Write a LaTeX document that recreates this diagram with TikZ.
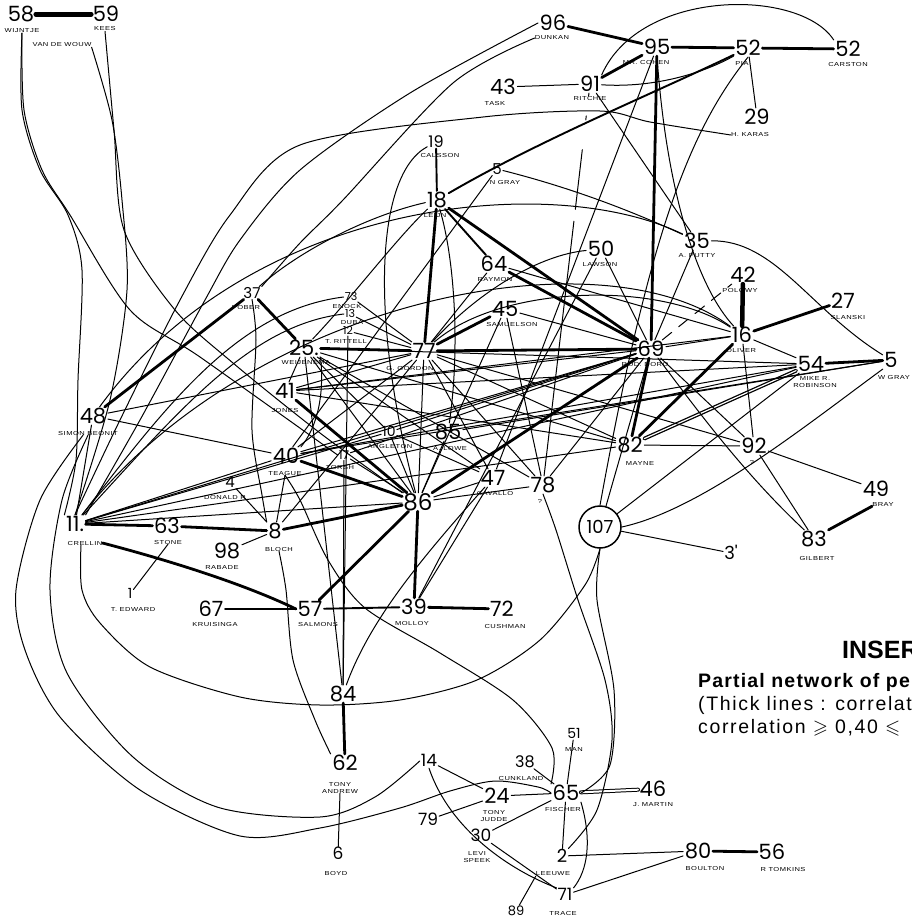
\documentclass[tikz,border=0pt]{standalone}
\usepackage{amssymb}
\usepackage{fontspec}
\setmainfont{Liberation Sans}
\newfontfamily\numfont{Poppins}
\newfontfamily\labfont[FakeStretch=1.3,LetterSpace=8]{Liberation Sans}
\newfontfamily\capfont[LetterSpace=6]{Liberation Sans}
\newfontfamily\capfontr[LetterSpace=8.5]{Liberation Sans}
\begin{document}
\begin{tikzpicture}[x=1pt,y=-1pt,
  nm/.style={font=\numfont\fontsize{21}{21}\selectfont, inner sep=1.5pt, text height=14.8pt, text depth=0pt},
  nms/.style={font=\numfont\fontsize{#1}{#1}\selectfont, inner sep=1pt, text height=0.7*#1pt, text depth=0pt},
  lb/.style={font=\labfont\fontsize{5.8}{6.2}\selectfont, inner sep=0pt, align=center},
  thn/.style={line width=1pt},
  thk/.style={line width=2.8pt},
  med/.style={line width=1.9pt},
  line cap=round]
\useasboundingbox (0,0) rectangle (911,921);
\clip (0,0) rectangle (911,921);
% ---------- nodes ----------
\node[nm] (n58) at (21,14) {58}; \node[lb] (l58) at (22,31) {WIJNTJE};
\node[nm] (n59) at (106,14) {59}; \node[lb] (l59) at (105,29) {KEES};
\node[lb] (lvdw) at (62,45) {VAN DE WOUW};
\node[nm] (n96) at (553,23) {96}; \node[lb] (l96) at (552,38) {DUNKAN};
\node[nm] (n95) at (657,47) {95}; \node[lb] (l95) at (646,63) {MR. COHEN};
\node[nm] (n52p) at (748,48) {52}; \node[lb] (l52p) at (742,64) {PIA};
\node[nm] (n52c) at (848,49) {52}; \node[lb] (l52c) at (848,65) {CARSTON};
\node[nm] (n29) at (757,117) {29}; \node[lb] (l29) at (750,135) {H. KARAS};
\node[nm] (n43) at (503,87) {43}; \node[lb] (l43) at (495,104) {TASK};
\node[nm] (n91) at (590,84) {91}; \node[lb] (l91) at (590,99) {RITCHIE};
\node[nms=16] (n19) at (436,142) {19}; \node[lb] (l19) at (440,156) {CALSSON};
\node[nms=15] (n5a) at (497,169) {5}; \node[lb] (l5a) at (505,183) {N GRAY};
\node[nm] (n18) at (437,200) {18}; \node[lb] (l18) at (435,216) {LEIJN};
\node[nm] (n64) at (494,264) {64}; \node[lb] (l64) at (495,279) {RAYMON};
\node[nm] (n50) at (601,249) {50}; \node[lb] (l50) at (600,264) {LAWSON};
\node[nm] (n35) at (697,241) {35}; \node[lb] (l35) at (697,256) {A. PUTTY};
\node[nm] (n42) at (743,275) {42}; \node[lb] (l42) at (740,290) {POLOWY};
\node[nm] (n27) at (843,301) {27}; \node[lb] (l27) at (848,317) {SLANSKI};
\node[nm] (n16) at (742,335) {16}; \node[lb] (l16) at (741,350) {OLIVER};
\node[nm] (n69) at (651,349) {69}; \node[lb] (l69) at (645,364) {ROD. DORO};
\node[nm] (n54) at (811,364) {54}; \node[lb] (l54) at (815,382) {MIKE R.\\ROBINSON};
\node[nm] (n5b) at (891,360) {5}; \node[lb] (l5b) at (894,377) {W GRAY};
\node[nm] (n45) at (505,309) {45}; \node[lb] (l45) at (512,324) {SAMUELSON};
\node[nms=11] (n73) at (351,297) {73}; \node[lb] (l73) at (347,306) {ENOCK};
\node[nms=11] (n13) at (350,314) {13}; \node[lb] (l13) at (352,323) {DUBA};
\node[nms=11] (n12) at (348,331) {12}; \node[lb] (l12) at (346,341) {T. RITTELL};
\node[nms=15] (n37) at (252,293) {37}; \node[lb] (l37) at (246,307) {POBER};
\node[nm] (n25) at (304,348) {25.}; \node[lb] (l25) at (306,363) {WEIJENEMA};
\node[nm] (n77) at (424,351) {77}; \node[lb] (l77) at (410,368) {G. GORDON};
\node[nm] (n41) at (285,391) {41}; \node[lb] (l41) at (285,410) {JONES};
\node[nm] (n48) at (93,416) {48}; \node[lb] (l48) at (88,433) {SIMON BEONIT};
\node[nms=14] (n10) at (389,432) {10}; \node[lb] (l10) at (390,446) {ANGLETON};
\node[nm] (n85) at (448,432) {85}; \node[lb] (l85) at (450,448) {A. LOWE};
\node[nms=12] (n17) at (344,455) {17}; \node[lb] (l17) at (340,467) {TORSH};
\node[nm] (n40) at (286,456) {40}; \node[lb] (l40) at (285,473) {TEAGUE};
\node[nm] (n82) at (630,445) {82}; \node[lb] (l82) at (640,463) {MAYNE};
\node[nm] (n92) at (754,446) {92}; \node[lb] (l92) at (752,462) {?};
\node[nms=15] (n4) at (230,482) {4}; \node[lb] (l4) at (225,497) {DONALD R};
\node[nm] (n47) at (493,478) {47}; \node[lb] (l47) at (495,493) {CAVALLO};
\node[nm] (n78) at (543,485) {78}; \node[lb] (l78) at (540,501) {?};
\node[nms=23] (n86) at (418,502) {86};
\node[nm] (n11) at (75,524) {11.}; \node[lb] (l11) at (85,543) {CRELLIN};
\node[nm] (n63) at (167,526) {63}; \node[lb] (l63) at (168,542) {STONE};
\node[nm] (n8) at (275,531) {8}; \node[lb] (l8) at (279,549) {BLOCH};
\node[nms=18, circle, draw, line width=1.5pt, minimum size=42pt, inner sep=0pt] (n107) at (600,527) {107};
\node[nm] (n49) at (876,489) {49}; \node[lb] (l49) at (883,504) {BRAY};
\node[nm] (n83) at (814,539) {83}; \node[lb] (l83) at (817,558) {GILBERT};
\node[nm] (n98) at (227,551) {98}; \node[lb] (l98) at (222,567) {RABADE};
\node[nms=18] (n3) at (731,553) {3'};
\node[nms=14] (n1) at (130,594) {1}; \node[lb] (l1) at (133,609) {T. EDWARD};
\node[nm] (n67) at (211,609) {67}; \node[lb] (l67) at (215,624) {KRUISINGA};
\node[nm] (n57) at (310,609) {57}; \node[lb] (l57) at (318,624) {SALMONS};
\node[nm] (n39) at (414,607) {39}; \node[lb] (l39) at (412,623) {MOLLOY};
\node[nm] (n72) at (502,609) {72}; \node[lb] (l72) at (505,626) {CUSHMAN};
\node[nm] (n84) at (343,694) {84};
\node[nm] (n62) at (345,763) {62}; \node[lb] (l62) at (340,788) {TONY\\ANDREW};
\node[nms=17] (n6) at (338,854) {6}; \node[lb] (l6) at (336,873) {BOYD};
\node[nms=17] (n14) at (429,761) {14};
\node[nms=14] (n51) at (574,734) {51}; \node[lb] (l51) at (574,749) {MAN};
\node[nms=16] (n38) at (525,762) {38}; \node[lb] (l38) at (521,778) {CUNKLAND};
\node[nm] (n65) at (566,793) {65}; \node[lb] (l65) at (563,809) {FISCHER};
\node[nm] (n46) at (653,789) {46}; \node[lb] (l46) at (653,805) {J. MARTIN};
\node[nm] (n24) at (497,796) {24}; \node[lb] (l24) at (494,816) {TONY\\JUDDE};
\node[nms=17] (n79) at (428,820) {79};
\node[nms=17] (n30) at (481,836) {30}; \node[lb] (l30) at (477,857) {LEVI\\SPEEK};
\node[nms=18] (n2) at (562,856) {2}; \node[lb] (l2) at (553,874) {LEEUWE};
\node[nm] (n80) at (698,851) {80}; \node[lb] (l80) at (705,868) {BOULTON};
\node[nm] (n56) at (772,852) {56}; \node[lb] (l56) at (783,869) {R TOMKINS};
\node[nms=17] (n71) at (565,895) {71}; \node[lb] (l71) at (563,913) {TRACE};
\node[nms=13] (n89) at (516,911) {89};
% ---------- text block ----------
\node[anchor=base west, font=\bfseries\fontsize{25}{25}\selectfont, inner sep=0pt] (tins) at (842,658) {INSER};
\node[anchor=base west, font=\capfont\bfseries\fontsize{19.5}{20}\selectfont, inner sep=0pt] (tpart) at (698,687) {Partial network of pe};
\node[anchor=base west, font=\capfontr\fontsize{19.5}{20}\selectfont, inner sep=0pt] (tthick) at (698,710) {(Thick lines : correlati};
\node[anchor=base west, font=\capfontr\fontsize{19.5}{20}\selectfont, inner sep=0pt] (tcorr) at (698,733) {correlation $\geqslant$ 0,40 $\leqslant$};
% ---------- thick edges ----------
\draw[line width=5pt] (n58) -- (n59);
\draw[thk] (n96) -- (n95);
\draw[thk] (n95) -- (n52p);
\draw[thk] (n52p) -- (n52c);
\draw[thk] (n91) -- (n95);
\draw[med] (n19) -- (n18);
\draw[thk] (n18) -- (n77);
\draw[thk] (n18) -- (n69);
\draw[med] (n18) -- (n64);
\draw[thk] (n64) -- (n69);
\draw[thk] (n95) -- (n69);
\draw[line width=4.5pt] (n42) -- (n16);
\draw[thk] (n27) -- (n16);
\draw[thk] (n54) -- (n5b);
\draw[thk] (n77) -- (n69);
\draw[thk] (n25) -- (n77);
\draw[thk] (n37) -- (n25);
\draw[thk] (n48) -- (n37);
\draw[thk] (n45) -- (n77);
\draw[thk] (n41) -- (n86);
\draw[thk] (n40) -- (n86);
\draw[thk] (n8) -- (n86);
\draw[thk] (n86) -- (n69);
\draw[thk] (n86) -- (n57);
\draw[thk] (n86) -- (n39);
\draw[thk] (n39) -- (n72);
\draw[thk] (n11) -- (n63);
\draw[thk] (n63) -- (n8);
\draw[thk] (l11.east) .. controls (160,558) and (240,582) .. (n57.west);
\draw[med] (n57) -- (n39);
\draw[med] (n67) -- (n57);
\draw[thk] (n84) -- (n62);
\draw[thk] (n80) -- (n56);
\draw[thk] (l49.south west) -- (n83.north east);
\draw[thk] (n16) -- (n82);
\draw[line width=1.3pt, double, double distance=1.2pt] (n54) -- (n82);
\draw[thk] (n69) -- (n82);
\draw[med] (n18) .. controls (540,140) and (650,95) .. (n52p);
\draw[thn, double, double distance=2pt] (n65) -- (n46);
% ---------- thin edges: top ----------
\draw[thn] (n43) -- (n91);
\draw[thn] (n52p) -- (n29);
\draw[thn] (n91.north east) .. controls (640,-12) and (800,-12) .. (n52c.north west);
\draw[thn] (n91) .. controls (650,88) and (700,75) .. (n52p);
\draw[thn] plot[smooth] coordinates {(l29.west) (650,122) (600,111) (483,117) (300,145) (230,215) (180,300) (120,420) (n11.north)};
\draw[thn] plot[smooth] coordinates {(n96.west) (410,93) (300,170) (240,240) (205,300) (140,420) (n11.north east)};
\draw[thn] plot[smooth] coordinates {(l96.west) (453,83) (343,200) (300,243) (n37.north east)};
\draw[thn] (n52p.south) .. controls (690,130) and (650,230) .. (n107.north);
\draw[thn] (n95) -- (n47);
\draw[thn] (n95.south) .. controls (667,200) and (700,290) .. (n16);
\draw[thn] (n35) .. controls (775,240) and (810,310) .. (n5b);
\draw[thn] (n5a) .. controls (580,190) and (640,215) .. (n35);
\draw[thn] (n91) -- (n35);
\draw[thn] (n64) -- (n16);
\draw[thn] (n35) -- (n69);
\draw[thn, dash pattern=on 12pt off 9pt] (n69) -- (n42);
\draw[thn] (n50) -- (n69);
\draw[thn, dash pattern=on 3pt off 20pt on 4pt off 30pt on 60pt off 12pt on 400pt] (n91) -- (n78);
\draw[thn] (n48) .. controls (250,200) and (550,170) .. (n35);
\draw[thn] (n19) .. controls (375,175) and (370,320) .. (n86);
\draw[thn] (n18) .. controls (395,240) and (350,300) .. (n25);
\draw[thn] (n18) .. controls (455,260) and (460,350) .. (n85);
\draw[thn] (n5a) -- (n40);
\draw[thn] (n37) .. controls (300,250) and (370,215) .. (n18);
% ---------- thin edges: centre ----------
\draw[thn] (n39) -- (n47);
\draw[thn] (n39) -- (n50);
\draw[thn] (n45) -- (n69);
\draw[thn] (n45) -- (n86);
\draw[thn] (n45) -- (n78);
\draw[thn] (n77) .. controls (480,290) and (540,255) .. (n50);
\draw[thn] (n77) .. controls (500,285) and (660,280) .. (n16);
\draw[thn] (n64) -- (n77);
\draw[thn] (n77) -- (n86);
\draw[thn] (n77) -- (n78);
\draw[thn] (n77) -- (n47);
\draw[thn] (n77) -- (n92);
\draw[thn] (n77) -- (n82);
\draw[thn] (n77) -- (n41);
\draw[thn] (n77) -- (n40);
\draw[thn] (n77) -- (n8);
\draw[thn] (n77) -- (n48);
\draw[thn] (n73) -- (n77);
\draw[thn] (n13) -- (n77);
\draw[thn] (n12) -- (n77);
\draw[thn] (n73.west) .. controls (240,310) and (170,400) .. (n11);
\draw[thn] (n13.west) .. controls (250,325) and (180,410) .. (n11);
\draw[thn] (n12) -- (n84);
\draw[thn] (n25) -- (n41);
\draw[thn] (n25.south east) .. controls (325,400) and (315,430) .. (n40.north east);
\draw[thn] (n25) -- (n86);
\draw[thn] (n25) -- (n10);
\draw[thn] (n25) -- (n47);
\draw[thn] (n25) -- (n78);
\draw[thn] (n25) -- (n84);
\draw[thn] (n41) -- (n69);
\draw[thn] (n41) -- (n54);
\draw[thn] (n40) -- (n54);
\draw[thn] (n40) -- (n5b);
\draw[thn] (n41) -- (n16);
\draw[thn] (n48) -- (n40);
\draw[thn] (n11) -- (n48);
\draw[thn] (n10) -- (n86);
\draw[thn] (n10) -- (n47);
\draw[thn] (n85) -- (n86);
\draw[thn] (n86) -- (n47);
\draw[thn] (n86) -- (n78);
\draw[thn] (n17) -- (n86);
\draw[thn] (n17) -- (n84);
\draw[thn] (n47) .. controls (420,560) and (370,620) .. (n84);
\draw[thn] (n69) -- (n10);
\draw[thn] (n69) -- (n40);
\draw[thn] (n69) -- (n17);
\draw[thn] (n69) -- (n78);
\draw[thn] (n82) -- (n25);
\draw[thn] (n82) -- (n41);
% ---------- thin edges: left ----------
\draw[thn] plot[smooth] coordinates {(l58.south) (22,110) (40,170) (68,215) (82,270) (78,380) (76,460) (n11.north west)};
\draw[thn] plot[smooth] coordinates {(l58.south) (24,110) (42,170) (70,215) (130,310) (200,357) (n17.west)};
\draw[thn] plot[smooth] coordinates {(lvdw.south east) (112,120) (122,200) (127,290) (110,400) (n11.north)};
\draw[thn] plot[smooth] coordinates {(l59.south) (114,130) (124,230) (175,310) (233,363) (320,433) (n86.north west)};
\draw[thn] (n11) -- (n86);
\draw[thn] (n11) -- (n69);
\draw[thn] (n11) -- (n54);
\draw[thn] (n11) -- (n82);
\draw[thn] (n11) .. controls (250,300) and (600,230) .. (n16);
\draw[thn] (n11) -- (n40);
\draw[thn] (n11) -- (n10);
\draw[thn] plot[smooth] coordinates {(n37.south) (256,340) (252,430) (262,495) (n8.north west)};
\draw[thn] plot[smooth] coordinates {(l8.south) (286,590) (293,660) (315,720) (n62.north west)};
\draw[thn] plot[smooth] coordinates {(l40.south) (300,500) (328,560) (365,608) (440,653) (513,700) (552,748) (n65.north west)};
\draw[thn] plot[smooth] coordinates {([xshift=-5pt]l48.south) (40,500) (16,590) (25,650) (60,717) (140,790) (240,836) (320,828) (400,808) (450,791) (495,781) (538,787) (n65.west)};
\draw[thn] plot[smooth] coordinates {(l48.south) (62,500) (50,590) (67,673) (133,757) (217,807) (320,817) (375,797) (n14.west)};
\draw[thn] plot[smooth] coordinates {([xshift=-4pt]l11.south) (82,590) (100,623) (150,667) (240,697) (320,705) (400,700) (477,680) (540,640) (585,585) (n107.south)};
\draw[thn] (n4) -- (n8);
\draw[thn] (n98) -- (n8);
\draw[thn] (n1) -- (l63.south);
\draw[thn] (l40.south) -- (n8);
% ---------- thin edges: right ----------
\draw[thn] (n69) -- (n16);
\draw[thn] (n16) -- (n54);
\draw[thn] (n16) -- (n92);
\draw[thn] (n82) -- (n92);
\draw[thn] (n92) -- (n83);
\draw[thn] (n92) -- (n49);
\draw[thn] (n69) .. controls (690,400) and (740,470) .. (n83);
\draw[thn] (n107) -- (n69);
\draw[thn] (n107) -- (n54);
\draw[thn] (n107.east) .. controls (700,510) and (800,430) .. (n5b.south west);
\draw[thn] (n107) -- (n3);
\draw[thn] (n54) -- (n25);
\draw[thn] (n5b) -- (n85);
\draw[thn] (n69) -- (n92);
\draw[thn] plot[smooth] coordinates {(n78.south) (556,530) (578,600) (605,680) (612,740) (597,810) (n2.north east)};
\draw[thn] plot[smooth] coordinates {(n107.south) (597,600) (614,690) (610,765) (n65.east)};
% ---------- thin edges: bottom ----------
\draw[thn] (n14) -- (n24);
\draw[thn] (n14.south) .. controls (450,830) and (510,870) .. (n71.north west);
\draw[thn] (n24) -- (n79);
\draw[thn] (n24) -- (n65);
\draw[thn] (n30) -- (n65);
\draw[thn] (n30) -- (n71);
\draw[thn] (n38) -- (n65);
\draw[thn] (n51) -- (n65);
\draw[thn] (n65) -- (n2);
\draw[thn] (n65.south east) .. controls (592,840) and (588,870) .. (n71.north east);
\draw[thn] (n2) -- (n80);
\draw[thn] (n80) -- (n71);
\draw[thn] (n89) -- (l2.south west);
\draw[thn] (l62.south) -- (n6);
\end{tikzpicture}
\end{document}
